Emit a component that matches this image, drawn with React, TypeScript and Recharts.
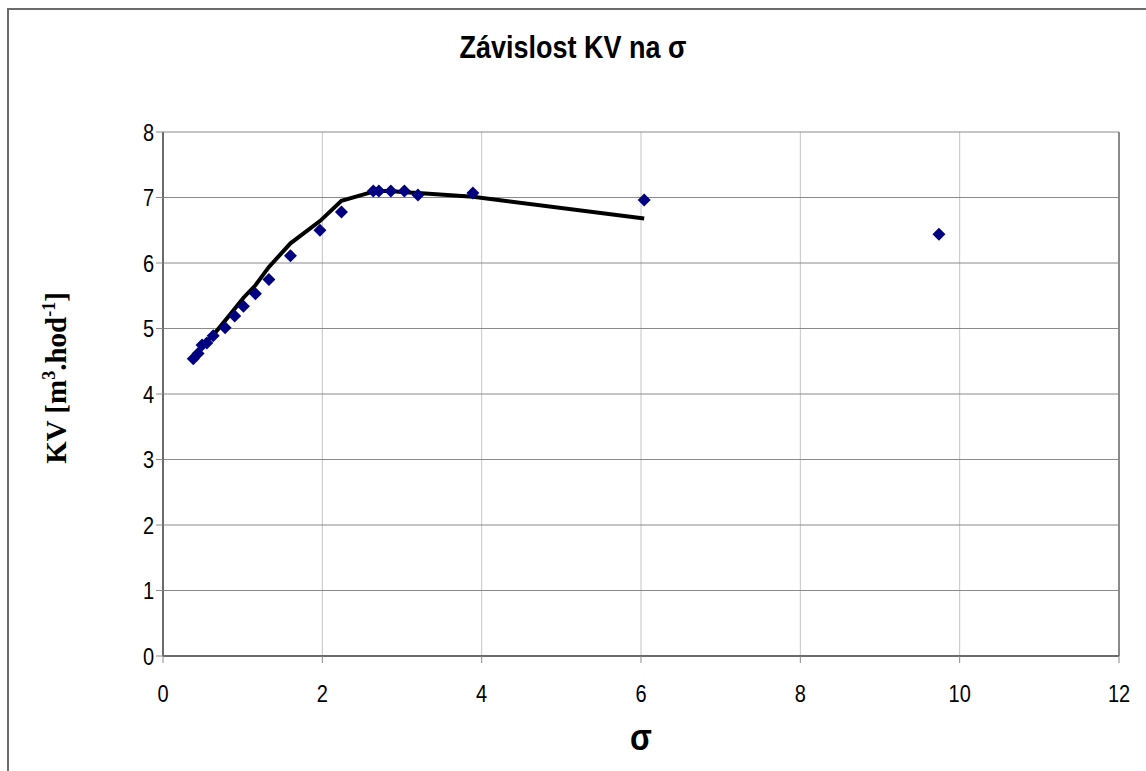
import React from 'react'
import {
  ScatterChart,
  Scatter,
  XAxis,
  YAxis,
  CartesianGrid,
  ReferenceLine,
} from 'recharts'

// sigma values (x) and measured KV, plus the fitted curve (no fit for the last point)
const sigma = [0.38, 0.44, 0.49, 0.55, 0.63, 0.78, 0.9, 1.01, 1.16, 1.33, 1.6, 1.97, 2.24, 2.64, 2.71, 2.86, 3.03, 3.2, 3.89, 6.04, 9.74]
const kvMeasured = [4.54, 4.62, 4.75, 4.78, 4.89, 5.01, 5.19, 5.34, 5.53, 5.75, 6.11, 6.5, 6.78, 7.1, 7.1, 7.1, 7.1, 7.04, 7.07, 6.96, 6.44]
const kvFit = [4.58, 4.66, 4.73, 4.8, 4.9, 5.12, 5.3, 5.47, 5.66, 5.94, 6.3, 6.64, 6.95, 7.09, 7.1, 7.1, 7.08, 7.07, 7.01, 6.68]

const xTicks = [0, 2, 4, 6, 8, 10, 12]
const yTicks = [0, 1, 2, 3, 4, 5, 6, 7, 8]

const measured = sigma.map((x, i) => ({ x, y: kvMeasured[i] }))
const fitted = kvFit.map((y, i) => ({ x: sigma[i], y }))

const FONT = '"Liberation Sans", Arial, sans-serif'

function Diamond(props: any) {
  const { cx, cy } = props
  if (cx == null || cy == null) return <g />
  const r = 6.5
  return (
    <polygon
      points={`${cx},${cy - r} ${cx + r},${cy} ${cx},${cy + r} ${cx - r},${cy}`}
      fill="#000080"
    />
  )
}

function NoDot() {
  return <g />
}

// tick labels in the original are a bit stretched vertically
function XTick(props: any) {
  const { x, y, payload } = props
  return (
    <text transform={`translate(${x},${y}) scale(1,1.22)`} textAnchor="middle" dy="0.71em" fill="#000" fontSize={20} fontFamily={FONT}>
      {payload.value}
    </text>
  )
}

function YTick(props: any) {
  const { x, y, payload } = props
  return (
    <text transform={`translate(${x},${y}) scale(1,1.22)`} textAnchor="end" dy="0.355em" fill="#000" fontSize={20} fontFamily={FONT}>
      {payload.value}
    </text>
  )
}

export default function App() {
  return (
    <div style={{ position: 'absolute', left: 0, top: 0, width: 1146, height: 771, background: '#fff', overflow: 'hidden' }}>
      <div
        style={{
          position: 'absolute',
          left: 7,
          top: 8,
          width: 1146,
          height: 771,
          borderLeft: '2px solid #6b6b6b',
          borderTop: '2px solid #6b6b6b',
        }}
      />
      <div
        style={{
          position: 'absolute',
          left: 0,
          top: 32,
          width: 1146,
          textAlign: 'center',
          fontFamily: FONT,
          fontWeight: 'bold',
          fontSize: 27,
          lineHeight: '32px',
          color: '#000',
          transform: 'scaleY(1.15)',
        }}
      >
        Závislost KV na σ
      </div>
      <div
        style={{
          position: 'absolute',
          left: 56,
          top: 378,
          transform: 'translate(-50%, -50%) rotate(-90deg)',
          whiteSpace: 'nowrap',
          fontFamily: '"Liberation Serif", "Times New Roman", serif',
          fontWeight: 'bold',
          fontSize: 29,
          color: '#000',
        }}
      >
        KV [m<sup style={{ fontSize: 18 }}>3</sup>.hod<sup style={{ fontSize: 18 }}>-1</sup>]
      </div>
      <div
        style={{
          position: 'absolute',
          left: 0,
          width: 1282,
          top: 719,
          textAlign: 'center',
          fontFamily: FONT,
          fontWeight: 'bold',
          fontSize: 32,
          lineHeight: '36px',
          color: '#000',
          transform: 'scaleY(1.15)',
        }}
      >
        σ
      </div>
      <div style={{ position: 'absolute', left: 0, top: 0 }}>
        <ScatterChart width={1146} height={771} margin={{ top: 132, right: 27, left: 103, bottom: 55 }}>
          <CartesianGrid horizontal={false} stroke="#c4c4c4" strokeWidth={1} />
          <CartesianGrid vertical={false} stroke="#8a8a8a" strokeWidth={1} />
          <XAxis
            type="number"
            dataKey="x"
            domain={[0, 12]}
            ticks={xTicks}
            height={60}
            interval={0}
            axisLine={{ stroke: '#6b6b6b', strokeWidth: 2 }}
            tickLine={{ stroke: '#8a8a8a' }}
            tickSize={7}
            tickMargin={22}
            tick={<XTick />}
          />
          <YAxis
            type="number"
            dataKey="y"
            domain={[0, 8]}
            ticks={yTicks}
            width={60}
            interval={0}
            axisLine={{ stroke: '#6b6b6b', strokeWidth: 2 }}
            tickLine={{ stroke: '#8a8a8a' }}
            tickSize={7}
            tickMargin={2}
            tick={<YTick />}
          />
          <ReferenceLine x={12} stroke="#8a8a8a" strokeWidth={2} />
          <Scatter
            data={fitted}
            line={{ stroke: '#000', strokeWidth: 4 }}
            lineJointType="linear"
            shape={<NoDot />}
            isAnimationActive={false}
            legendType="none"
          />
          <Scatter data={measured} shape={<Diamond />} isAnimationActive={false} legendType="none" />
        </ScatterChart>
      </div>
    </div>
  )
}
